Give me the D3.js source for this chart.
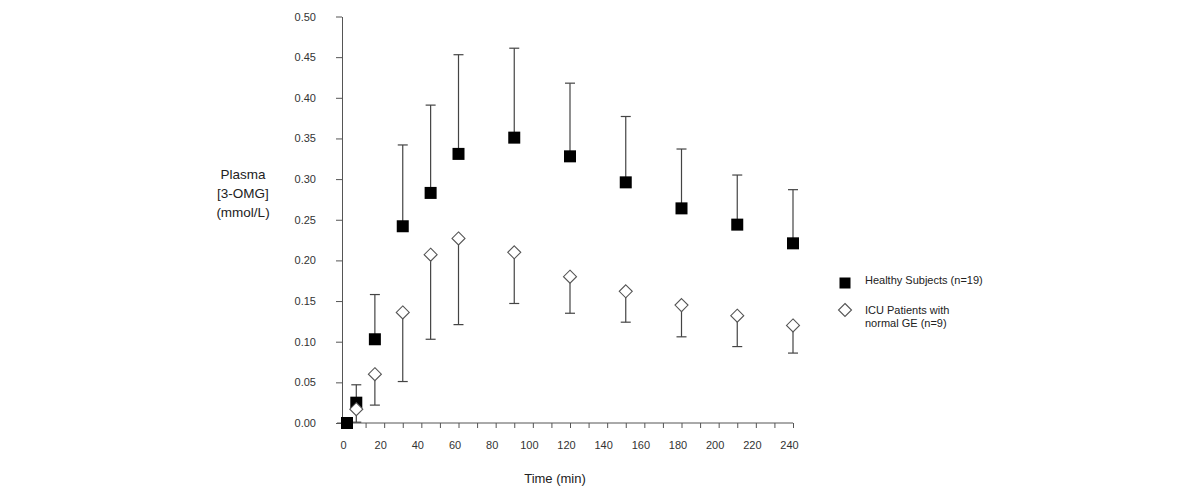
<!DOCTYPE html>
<html>
<head>
<meta charset="utf-8">
<script src="https://cdn.jsdelivr.net/npm/d3@7"></script>
<style>
    body { margin: 0; background: #fff; }
    svg { display: block; font-family: "Liberation Sans", Arial, sans-serif; }
    .tick text { fill: #333; font-size: 11px; }
    .label { fill: #222; }
</style>
</head>
<body>
<div id="chart"></div>
<script>
// sampling times (min)
const times = [0, 5, 15, 30, 45, 60, 90, 120, 150, 180, 210, 240];

// healthy subjects: mean and upper error bar end
const healthyMean  = [0, 0.025, 0.103, 0.242, 0.283, 0.331, 0.351, 0.328, 0.296, 0.264, 0.244, 0.221];
const healthyUpper = [null, 0.047, 0.158, 0.342, 0.391, 0.453, 0.461, 0.418, 0.377, 0.337, 0.305, 0.287];

// ICU patients: mean and lower error bar end (no point at 0)
const icuMean  = [null, 0.017, 0.060, 0.136, 0.207, 0.227, 0.210, 0.180, 0.162, 0.145, 0.132, 0.120];
const icuLower = [null, 0.001, 0.022, 0.051, 0.103, 0.121, 0.147, 0.135, 0.124, 0.106, 0.094, 0.086];

const yTicks = [0, 0.05, 0.10, 0.15, 0.20, 0.25, 0.30, 0.35, 0.40, 0.45, 0.50];
const xTicks = d3.range(0, 241, 10);

const legendLabels = [["Healthy Subjects (n=19)"], ["ICU Patients with", "normal GE (n=9)"]];

const width = 1200, height = 491;
const axisColor = "#555";

const svg = d3.select("#chart").append("svg")
    .attr("width", width)
    .attr("height", height);

const xScale = d3.scaleLinear().domain([0, 240]).range([347, 793]);
const yScale = d3.scaleLinear().domain([0, 0.5]).range([423, 16.5]);
const yAxisX = xScale(0) - 5;

const healthy = times.map((t, i) => ({ t, mean: healthyMean[i], upper: healthyUpper[i] }));
const icu = times.map((t, i) => ({ t, mean: icuMean[i], lower: icuLower[i] }))
    .filter(d => d.mean !== null);

// y axis
svg.append("g")
    .attr("transform", `translate(${yAxisX},0)`)
    .call(d3.axisLeft(yScale).tickValues(yTicks).tickFormat(d3.format(".2f"))
        .tickSize(6).tickSizeOuter(0).tickPadding(20))
    .call(g => g.selectAll("line, path").attr("stroke", axisColor));

// x axis
svg.append("g")
    .attr("transform", `translate(0,${yScale(0)})`)
    .call(d3.axisBottom(xScale).tickValues(xTicks)
        .tickFormat(d => d % 20 === 0 ? d : "")
        .tickSize(5).tickSizeOuter(0).tickPadding(13))
    .call(g => g.select(".domain").remove())
    .call(g => g.selectAll("line").attr("stroke", axisColor))
    .call(g => g.selectAll(".tick text").attr("dx", -4))
    .call(g => g.append("line")
        .attr("x1", yAxisX - 5)
        .attr("x2", xScale(240))
        .attr("stroke", axisColor));

// axis titles
svg.append("text")
    .attr("class", "label")
    .attr("x", 555)
    .attr("y", 483)
    .attr("text-anchor", "middle")
    .attr("font-size", 13)
    .text("Time (min)");

svg.append("text")
    .attr("class", "label")
    .attr("text-anchor", "middle")
    .attr("font-size", 13.5)
    .selectAll("tspan")
    .data(["Plasma", "[3-OMG]", "(mmol/L)"])
    .join("tspan")
    .attr("x", 243)
    .attr("y", (d, i) => 179 + i * 19)
    .text(d => d);

// error bars
const bars = svg.append("g")
    .attr("stroke", "#444")
    .attr("stroke-width", 1.2);

const capW = 5;

bars.selectAll(".hbar")
    .data(healthy.filter(d => d.upper !== null))
    .join("g")
    .attr("class", "hbar")
    .call(g => g.append("line")
        .attr("x1", d => xScale(d.t)).attr("x2", d => xScale(d.t))
        .attr("y1", d => yScale(d.mean)).attr("y2", d => yScale(d.upper)))
    .call(g => g.append("line")
        .attr("x1", d => xScale(d.t) - capW).attr("x2", d => xScale(d.t) + capW)
        .attr("y1", d => yScale(d.upper)).attr("y2", d => yScale(d.upper)));

bars.selectAll(".ibar")
    .data(icu)
    .join("g")
    .attr("class", "ibar")
    .call(g => g.append("line")
        .attr("x1", d => xScale(d.t)).attr("x2", d => xScale(d.t))
        .attr("y1", d => yScale(d.mean)).attr("y2", d => yScale(d.lower)))
    .call(g => g.append("line")
        .attr("x1", d => xScale(d.t) - capW).attr("x2", d => xScale(d.t) + capW)
        .attr("y1", d => yScale(d.lower)).attr("y2", d => yScale(d.lower)));

// markers
const sq = 12;
const diamond = (cx, cy, r) => `M${cx},${cy - r}L${cx + r},${cy}L${cx},${cy + r}L${cx - r},${cy}Z`;

svg.append("g")
    .selectAll("rect")
    .data(healthy)
    .join("rect")
    .attr("x", d => xScale(d.t) - sq / 2)
    .attr("y", d => yScale(d.mean) - sq / 2)
    .attr("width", sq)
    .attr("height", sq)
    .attr("fill", "#000");

svg.append("g")
    .selectAll("path")
    .data(icu)
    .join("path")
    .attr("d", d => diamond(xScale(d.t), yScale(d.mean), 6.5))
    .attr("fill", "#fff")
    .attr("stroke", "#555")
    .attr("stroke-width", 1.1);

// legend
const legend = svg.append("g").attr("font-size", 11).attr("fill", "#222");

legend.append("rect")
    .attr("x", 845 - 5.5).attr("y", 283 - 5.5)
    .attr("width", 11).attr("height", 11)
    .attr("fill", "#000");

legend.append("path")
    .attr("d", diamond(845, 310, 6.5))
    .attr("fill", "#fff")
    .attr("stroke", "#555")
    .attr("stroke-width", 1.1);

legend.selectAll(".entry")
    .data(legendLabels)
    .join("text")
    .attr("class", "entry")
    .selectAll("tspan")
    .data((d, i) => d.map(line => ({ line, i })))
    .join("tspan")
    .attr("x", 865)
    .attr("y", (d, j) => (d.i === 0 ? 284 : 314) + j * 13)
    .text(d => d.line);
</script>
</body>
</html>
